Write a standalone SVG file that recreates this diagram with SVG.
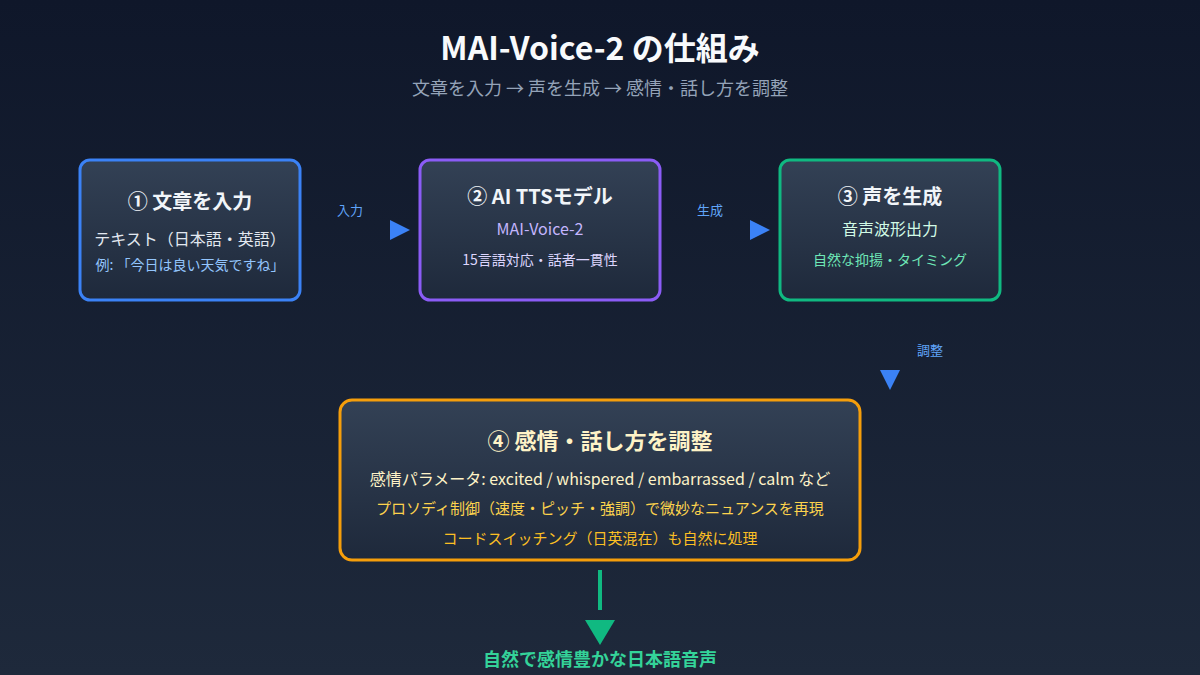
<svg xmlns="http://www.w3.org/2000/svg" width="1200" height="675" viewBox="0 0 1200 675">
<defs>
<linearGradient id="bg" x1="0" y1="0" x2="0" y2="1"><stop offset="0" stop-color="#0f172a"/><stop offset="1" stop-color="#1e293b"/></linearGradient>
<linearGradient id="box" x1="0" y1="0" x2="0" y2="1"><stop offset="0" stop-color="#334155"/><stop offset="1" stop-color="#1e293b"/></linearGradient>
</defs>
<style>
text{font-family:"Noto Sans CJK JP","Noto Sans",sans-serif;text-anchor:middle}
.box{fill:url(#box);stroke-width:3}
.h{font-size:20px;font-weight:bold;fill:#f1f5f9}
.s{font-size:16px}
.t{font-size:14px}
.lbl{font-size:13px;fill:#60a5fa}
</style>
<rect width="1200" height="675" fill="url(#bg)"/>
<text x="600" y="60" style="font-size:32px;font-weight:bold;fill:#f8fafc">MAI-Voice-2 の仕組み</text>
<text x="600" y="95" style="font-size:18px;fill:#94a3b8">文章を入力 → 声を生成 → 感情・話し方を調整</text>
<g id="node1">
<rect class="box" x="80" y="160" width="220" height="140" rx="10" stroke="#3b82f6"/>
<text class="h" x="190" y="209">① 文章を入力</text>
<text class="s" x="190" y="245" fill="#e2e8f0">テキスト（日本語・英語）</text>
<text class="t" x="190" y="270" fill="#93c5fd">例: 「今日は良い天気ですね」</text>
</g>
<g id="node2">
<rect class="box" x="420" y="160" width="240" height="140" rx="10" stroke="#8b5cf6"/>
<text class="h" x="540" y="204">② AI TTSモデル</text>
<text class="s" x="540" y="235" fill="#c4b5fd">MAI-Voice-2</text>
<text class="t" x="540" y="265" fill="#ddd6fe">15言語対応・話者一貫性</text>
</g>
<g id="node3">
<rect class="box" x="780" y="160" width="220" height="140" rx="10" stroke="#10b981"/>
<text class="h" x="890" y="204">③ 声を生成</text>
<text class="s" x="890" y="235" fill="#d1fae5">音声波形出力</text>
<text class="t" x="890" y="265" fill="#6ee7b7">自然な抑揚・タイミング</text>
</g>
<g id="node4">
<rect class="box" x="340" y="400" width="520" height="160" rx="12" stroke="#f59e0b"/>
<text x="600" y="449" style="font-size:22px;font-weight:bold;fill:#fef3c7">④ 感情・話し方を調整</text>
<text x="600" y="485" style="font-size:16px;fill:#fef3c7">感情パラメータ: excited / whispered / embarrassed / calm など</text>
<text x="600" y="514" style="font-size:15px;fill:#fcd34d">プロソディ制御（速度・ピッチ・強調）で微妙なニュアンスを再現</text>
<text x="600" y="544" style="font-size:15px;fill:#fbbf24">コードスイッチング（日英混在）も自然に処理</text>
</g>
<g id="connectors">
<text class="lbl" x="350" y="215">入力</text>
<polygon points="390,220 410,230 390,240" fill="#3b82f6"/>
<text class="lbl" x="710" y="215">生成</text>
<polygon points="750,220 770,230 750,240" fill="#3b82f6"/>
<text class="lbl" x="930" y="355">調整</text>
<polygon points="880,370 900,370 890,390" fill="#3b82f6"/>
<line x1="600" y1="570" x2="600" y2="610" stroke="#10b981" stroke-width="4"/>
<polygon points="585,620 615,620 600,645" fill="#10b981"/>
</g>
<text x="600" y="666" style="font-size:18px;font-weight:bold;fill:#34d399">自然で感情豊かな日本語音声</text>
</svg>
